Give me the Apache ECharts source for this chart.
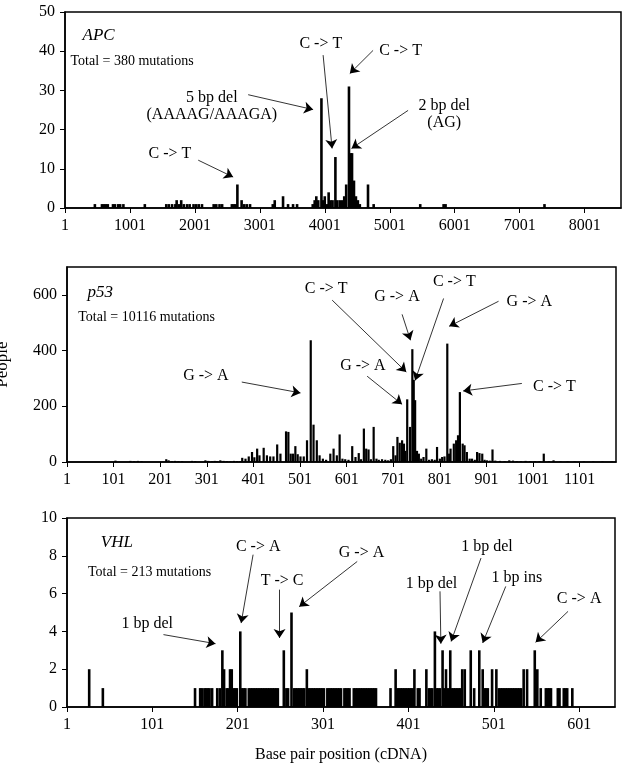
<!DOCTYPE html>
<html>
<head>
<meta charset="utf-8">
<script src="https://cdn.jsdelivr.net/npm/echarts/dist/echarts.min.js"></script>
<style>
  html, body { margin: 0; padding: 0; background: #fff; }
  #main { width: 624px; height: 769px; }
</style>
</head>
<body>
<div id="main"></div>
<script>
// APC: cDNA position -> number of people
const apcPos = [461, 570, 600, 630, 660, 740, 770, 820, 850, 900, 1230, 1560, 1600, 1650,
  1700, 1720, 1760, 1790, 1830, 1880, 1920, 1980, 2020, 2060, 2110, 2290, 2330, 2380, 2420,
  2570, 2600, 2630, 2655, 2720, 2760, 2800, 2850, 3200, 3230, 3358, 3435, 3512, 3574,
  3815, 3845, 3870, 3900, 3949, 3970, 4000, 4030, 4060, 4090, 4120, 4164, 4190, 4230, 4270,
  4300, 4330, 4373, 4400, 4420, 4450, 4480, 4510, 4540, 4666, 4753, 5470, 5830, 5860, 7383];
const apcCount = [1, 1, 1, 1, 1, 1, 1, 1, 1, 1, 1, 1, 1, 1,
  1, 2, 1, 2, 1, 1, 1, 1, 1, 1, 1, 1, 1, 1, 1,
  1, 1, 1, 6, 2, 1, 1, 1, 1, 2, 3, 1, 1, 1,
  1, 2, 3, 2, 28, 2, 3, 1, 4, 2, 2, 13, 2, 2, 2,
  3, 6, 31, 14, 14, 7, 3, 2, 1, 6, 1, 1, 1, 1, 1];

// p53
const p53Pos = [105, 137, 145, 153, 161, 214, 219, 226, 233, 240, 248, 269, 276, 298, 304, 312,
  318, 323, 330, 337, 344, 352, 359, 366, 373, 377, 384, 391, 398, 403, 409, 414, 423, 430, 437,
  444, 452, 459, 471, 476, 481, 486, 491, 496, 502, 509, 516, 524, 530, 537, 543, 550, 557,
  566, 573, 580, 586, 592, 598, 605, 613, 620, 627, 632, 638, 643, 648, 653, 659, 665, 670,
  677, 684, 690, 696, 701, 706, 710, 715, 720, 724, 727, 731, 737, 742, 745, 748, 752, 756,
  761, 766, 772, 778, 784, 790, 795, 801, 806, 811, 817, 821, 824, 831, 836, 840, 844, 850,
  854, 859, 865, 870, 876, 881, 886, 892, 897, 902, 908, 914, 920, 930, 940, 950, 958, 966,
  975, 985, 995, 1005, 1015, 1024, 1035, 1045, 1060, 1075, 1090, 1110, 1130, 1150, 1170];
const p53Count = [5, 4, 3, 4, 3, 10, 6, 3, 4, 3, 3, 4, 3, 6, 4, 3,
  4, 3, 6, 4, 3, 2, 4, 3, 3, 15, 12, 20, 36, 17, 48, 24, 51, 24, 20,
  20, 63, 30, 110, 108, 30, 30, 57, 28, 20, 20, 78, 437, 134, 78, 24, 12, 8,
  30, 48, 24, 99, 12, 10, 8, 57, 18, 32, 10, 120, 48, 45, 10, 126, 12, 8,
  10, 8, 6, 10, 57, 24, 90, 69, 78, 66, 40, 225, 126, 405, 295, 222, 40, 30,
  12, 18, 48, 8, 10, 8, 54, 12, 18, 20, 425, 30, 48, 66, 78, 96, 251, 66,
  60, 36, 12, 12, 8, 36, 32, 30, 8, 6, 5, 45, 5, 4, 3, 6, 5, 3,
  3, 4, 3, 3, 3, 30, 3, 6, 2, 2, 2, 2, 2, 2, 2];

// VHL
const vhlPos = [27, 43, 151, 157, 159, 162, 164, 166, 168, 171, 177, 180, 183, 185, 188, 190,
  192, 194, 196, 198, 200, 204, 206, 208, 210, 214, 216, 218, 220, 222, 224, 226,
  228, 230, 232, 234, 236, 238, 240, 242, 244, 246, 248, 255, 258, 260, 264,
  267, 269, 271, 273, 275, 277, 279, 282, 284, 286, 288, 290, 292, 294, 296, 298, 300, 302,
  306, 308, 310, 312, 314, 316, 318, 320, 322, 326, 328, 330, 332,
  337, 339, 341, 343, 345, 347, 349, 351, 353, 355, 357, 359, 361, 363,
  380, 386, 388, 390, 392, 394, 396, 398, 400, 402, 404, 406, 408, 412, 414, 422, 425, 427, 429,
  432, 434, 436, 438, 441, 443, 445, 447, 450, 452, 454, 456, 458, 460, 462, 464, 467,
  474, 478, 484, 488, 490, 492, 494, 499, 504, 507, 509, 511, 513,
  515, 517, 519, 521, 523, 525, 527, 529, 531, 533, 536, 540, 549, 552, 556,
  562, 564, 566, 568, 576, 578, 583, 585, 587, 593];
const vhlCount = [2, 1, 1, 1, 1, 1, 1, 1, 1, 1, 1, 1, 3, 2, 1, 1,
  2, 2, 1, 1, 1, 4, 1, 1, 1, 1, 1, 1, 1, 1, 1, 1,
  1, 1, 1, 1, 1, 1, 1, 1, 1, 1, 1, 3, 1, 1, 5,
  1, 1, 1, 1, 1, 1, 1, 2, 1, 1, 1, 1, 1, 1, 1, 1, 1, 1,
  1, 1, 1, 1, 1, 1, 1, 1, 1, 1, 1, 1, 1,
  1, 1, 1, 1, 1, 1, 1, 1, 1, 1, 1, 1, 1, 1,
  1, 2, 1, 1, 1, 1, 1, 1, 1, 1, 1, 1, 2, 1, 1, 2, 1, 1, 1,
  4, 1, 1, 1, 3, 1, 2, 1, 3, 1, 1, 1, 1, 1, 1, 2, 2,
  3, 1, 3, 2, 1, 1, 1, 2, 2, 1, 1, 1, 1,
  1, 1, 1, 1, 1, 1, 1, 1, 1, 1, 2, 2, 3, 2, 1,
  1, 1, 1, 1, 1, 1, 1, 1, 1, 1];

// annotations, in data units (position, count)
const apcNotes = [
  { text: '5 bp del\n(AAAAG/AAAGA)', at: [2262, 25.9], from: [2821, 28.9], to: [3821, 25.1] },
  { text: 'C -> T', at: [1616, 13.7], from: [2052, 12.2], to: [2590, 7.9] },
  { text: 'C -> T', at: [3939, 42.0], from: [3975, 39.0], to: [4113, 15.2] },
  { text: 'C -> T', at: [5167, 40.2], from: [4744, 40.2], to: [4386, 34.3] },
  { text: '2 bp del\n(AG)', at: [5839, 23.9], from: [5283, 24.9], to: [4412, 15.2] }
];
const p53Notes = [
  { text: 'G -> A', at: [299, 311], from: [376, 287], to: [502, 248] },
  { text: 'C -> T', at: [557, 623], from: [570, 581], to: [729, 323] },
  { text: 'G -> A', at: [709, 592], from: [720, 530], to: [738, 437] },
  { text: 'C -> T', at: [832, 646], from: [809, 587], to: [748, 293] },
  { text: 'G -> A', at: [993, 574], from: [927, 577], to: [821, 487] },
  { text: 'G -> A', at: [636, 344], from: [645, 308], to: [720, 207] },
  { text: 'C -> T', at: [1047, 269], from: [977, 282], to: [851, 255] }
];
const vhlNotes = [
  { text: '1 bp del', at: [95, 4.41], from: [114, 3.83], to: [175, 3.35] },
  { text: 'C -> A', at: [225, 8.47], from: [219, 8.06], to: [205, 4.44] },
  { text: 'T -> C', at: [253, 6.70], from: [250, 6.21], to: [250, 3.65] },
  { text: 'G -> A', at: [346, 8.18], from: [341, 7.70], to: [273, 5.31] },
  { text: '1 bp del', at: [428, 6.51], from: [438, 6.12], to: [439, 3.35] },
  { text: '1 bp del', at: [493, 8.47], from: [486, 7.88], to: [451, 3.47] },
  { text: '1 bp ins', at: [528, 6.83], from: [515, 6.38], to: [488, 3.39] },
  { text: 'C -> A', at: [601, 5.71], from: [588, 5.06], to: [550, 3.42] }
];

const font = 'Liberation Serif';
const panels = [
  { name: 'APC', total: 'Total = 380 mutations', namePos: [263, 44.1], totalPos: [78, 37.5],
    pos: apcPos, count: apcCount, notes: apcNotes,
    grid: { left: 65, top: 12, right: 3, height: 196 }, xMax: 8560, xStep: 1000, yMax: 50, yStep: 10, bw: 2.6 },
  { name: 'p53', total: 'Total = 10116 mutations', namePos: [44, 610], totalPos: [24, 518],
    pos: p53Pos, count: p53Count, notes: p53Notes,
    grid: { left: 67, top: 267, right: 8, height: 195 }, xMax: 1178, xStep: 100, yMax: 700, yStep: 200, bw: 2.2 },
  { name: 'VHL', total: 'Total = 213 mutations', namePos: [40, 8.71], totalPos: [25, 7.12],
    pos: vhlPos, count: vhlCount, notes: vhlNotes,
    grid: { left: 67, top: 518, right: 9, height: 189 }, xMax: 642, xStep: 100, yMax: 10, yStep: 2, bw: 2.6 }
];

const txt = { fontFamily: font, color: '#000' };
const grid = [], xAxis = [], yAxis = [], series = [];

panels.forEach((p, i) => {
  grid.push(Object.assign({ show: true, borderColor: '#000', borderWidth: 1.5, backgroundColor: '#fff',
    containLabel: false, outerBoundsMode: 'none' }, p.grid));
  xAxis.push({
    type: 'value', gridIndex: i, min: 0, max: p.xMax, interval: p.xStep,
    axisLine: { show: true, lineStyle: { color: '#000', width: 1.5 } },
    axisTick: { show: true, length: 5, lineStyle: { color: '#000' } },
    axisLabel: Object.assign({ fontSize: 16, margin: 10, showMaxLabel: false,
      formatter: v => String(v + 1) }, txt),
    splitLine: { show: false },
    name: i === 2 ? 'Base pair position (cDNA)' : '',
    nameLocation: 'middle', nameGap: 40,
    nameTextStyle: Object.assign({ fontSize: 16 }, txt)
  });
  yAxis.push({
    type: 'value', gridIndex: i, min: 0, max: p.yMax, interval: p.yStep,
    axisLine: { show: true, lineStyle: { color: '#000', width: 1.5 } },
    axisTick: { show: true, length: 5, lineStyle: { color: '#000' } },
    axisLabel: Object.assign({ fontSize: 16, margin: 10, showMaxLabel: i !== 1 }, txt),
    splitLine: { show: false },
    name: i === 1 ? 'People' : '',
    nameLocation: 'middle', nameGap: 56, nameRotate: 90,
    nameTextStyle: Object.assign({ fontSize: 17 }, txt)
  });

  const labels = [
    { coord: [p.namePos[0] - 1, p.namePos[1]],
      label: Object.assign({ formatter: p.name, fontSize: 17, fontStyle: 'italic', position: 'right', distance: 0 }, txt) },
    { coord: [p.totalPos[0] - 1, p.totalPos[1]],
      label: Object.assign({ formatter: p.total, fontSize: 14, position: 'right', distance: 0 }, txt) }
  ];
  p.notes.forEach(n => labels.push({
    coord: [n.at[0] - 1, n.at[1]],
    label: Object.assign({ formatter: n.text, fontSize: 16, position: 'inside', align: 'center', lineHeight: 17 }, txt)
  }));

  series.push({
    type: 'bar', xAxisIndex: i, yAxisIndex: i, barWidth: p.bw,
    data: p.pos.map((x, k) => [x - 1, p.count[k]]),
    itemStyle: { color: '#000' },
    silent: true,
    markLine: {
      silent: true, symbol: ['none', 'arrow'], symbolSize: 9,
      label: { show: false },
      lineStyle: { color: '#000', width: 0.8, type: 'solid' },
      data: p.notes.map(n => [{ coord: [n.from[0] - 1, n.from[1]] }, { coord: [n.to[0] - 1, n.to[1]] }])
    },
    markPoint: {
      silent: true, symbol: 'circle', symbolSize: 1,
      itemStyle: { color: 'rgba(0,0,0,0)' },
      data: labels
    }
  });
});

const chart = echarts.init(document.getElementById('main'));
chart.setOption({ animation: false, grid, xAxis, yAxis, series });
</script>
</body>
</html>
